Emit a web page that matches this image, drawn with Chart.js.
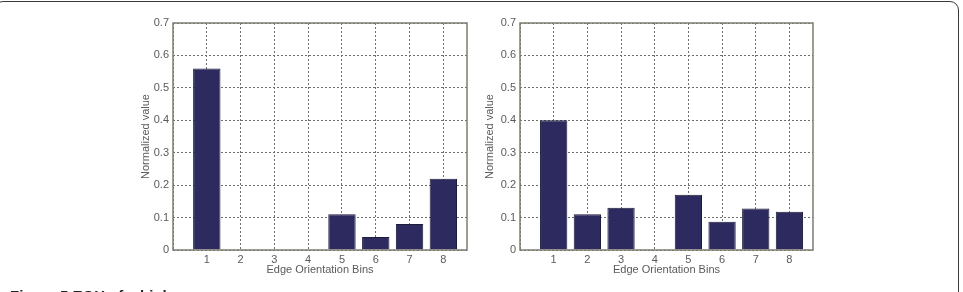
<!DOCTYPE html>
<html>
<head>
<meta charset="utf-8">
<script src="https://cdn.jsdelivr.net/npm/chart.js@4.4.0/dist/chart.umd.min.js"></script>
<style>
  html, body { margin: 0; padding: 0; background: #fff; }
  body { width: 963px; height: 292px; position: relative; overflow: hidden; }
  .frame {
    position: absolute; left: -6px; top: 1px; width: 963px; height: 400px;
    border: 1.5px solid #3a3a3a; border-radius: 9px;
  }
  .box { position: absolute; top: 0; width: 350px; height: 292px; }
  #leftBox { left: 130px; }
  #rightBox { left: 477px; }
  .caption {
    position: absolute; left: 10px; top: 287px; line-height: 15px;
    font: bold 15px "Liberation Sans", Arial, sans-serif; color: #222;
  }
</style>
</head>
<body>
<div class="frame"></div>
<div class="box" id="leftBox"><canvas id="leftChart"></canvas></div>
<div class="box" id="rightBox"><canvas id="rightChart"></canvas></div>
<div class="caption">Figure 5 EOH of a high</div>

<script>
// Edge orientation histogram data
const bins = [1, 2, 3, 4, 5, 6, 7, 8];
const leftValues = [0.56, 0, 0, 0, 0.11, 0.04, 0.08, 0.22];
const rightValues = [0.40, 0.11, 0.13, 0, 0.17, 0.087, 0.128, 0.118];
const yTicks = [0, 0.1, 0.2, 0.3, 0.4, 0.5, 0.6, 0.7];

const axisColor = '#7d7d72';
const gridColor = '#6e6e6e';
const textColor = '#5a5a5a';
const fontFamily = '"Liberation Sans", Arial, sans-serif';

// draws the closed box around the plot area, like matlab's "box on"
const boxPlugin = {
    id: 'boxFrame',
    afterDraw(chart) {
        const a = chart.chartArea;
        const ctx = chart.ctx;
        ctx.save();
        ctx.strokeStyle = axisColor;
        ctx.lineWidth = 1.5;
        ctx.strokeRect(a.left, a.top, a.right - a.left, a.bottom - a.top);
        ctx.restore();
    }
};

function makeChart(canvasId, values, padRight, titlePad) {
    const ctx = document.getElementById(canvasId).getContext('2d');
    return new Chart(ctx, {
        type: 'bar',
        data: {
            datasets: [{
                data: bins.map((b, i) => ({ x: b, y: values[i] })),
                backgroundColor: '#2c2a5e',
                borderColor: '#1c1b38',
                borderWidth: 1,
                categoryPercentage: 0.9,
                barPercentage: 0.9
            }]
        },
        options: {
            responsive: false,
            animation: false,
            devicePixelRatio: 1,
            layout: { padding: { top: 23, right: padRight, bottom: 12, left: 0 } },
            plugins: { legend: { display: false }, tooltip: { enabled: false } },
            scales: {
                x: {
                    type: 'linear',
                    min: 0,
                    max: 8.7,
                    offset: false,
                    afterFit(scale) { scale.height = 30; },
                    ticks: {
                        stepSize: 1,
                        includeBounds: false,
                        padding: 3,
                        color: textColor,
                        font: { family: fontFamily, size: 11 },
                        callback: v => (v >= 1 && v <= 8 ? String(v) : '')
                    },
                    grid: {
                        offset: false,
                        color: gridColor,
                        lineWidth: 1,
                        drawTicks: false
                    },
                    border: { display: false, dash: [2, 2] },
                    title: {
                        display: true,
                        text: 'Edge Orientation Bins',
                        color: textColor,
                        font: { family: fontFamily, size: 11 },
                        padding: { top: 0, bottom: 3 }
                    }
                },
                y: {
                    min: 0,
                    max: 0.7,
                    afterFit(scale) { scale.width = 43; },
                    afterBuildTicks(scale) { scale.ticks = yTicks.map(v => ({ value: v })); },
                    ticks: {
                        padding: 4,
                        color: textColor,
                        font: { family: fontFamily, size: 11 },
                        callback: v => (v === 0 ? '0' : v.toFixed(1))
                    },
                    grid: {
                        color: gridColor,
                        lineWidth: 1,
                        drawTicks: false
                    },
                    border: { display: false, dash: [2, 2] },
                    title: {
                        display: true,
                        text: 'Normalized value',
                        color: textColor,
                        font: { family: fontFamily, size: 11 },
                        padding: { top: titlePad, bottom: 0 }
                    }
                }
            }
        },
        plugins: [boxPlugin]
    });
}

document.addEventListener('DOMContentLoaded', function() {
    ['leftChart', 'rightChart'].forEach(id => {
        const c = document.getElementById(id);
        c.width = 350;
        c.height = 292;
    });
    makeChart('leftChart', leftValues, 13, 9);
    makeChart('rightChart', rightValues, 14, 6);
});
</script>
</body>
</html>
